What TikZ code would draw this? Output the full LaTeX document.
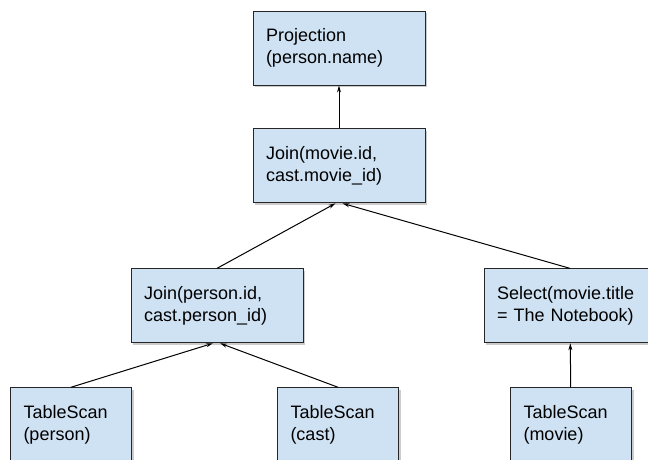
\documentclass[tikz,border=0pt]{standalone}
\usepackage{fontspec}
\setmainfont{Liberation Sans}
\usepackage{xcolor}
\usetikzlibrary{shapes,arrows.meta,positioning,shadows}
\definecolor{opblue}{HTML}{CFE2F3}

\begin{document}
\begin{tikzpicture}[
    opbox/.style={rectangle, draw=black!85, line width=0.9pt, fill=opblue,
        drop shadow={shadow xshift=2pt, shadow yshift=-2pt, fill=black!40},
        minimum width=172pt, minimum height=74pt, text width=146pt,
        inner xsep=13pt, align=left, font=\fontsize{18}{22.5}\selectfont},
    scanbox/.style={opbox, minimum width=121pt, text width=95pt},
    edge/.style={-{Stealth[length=7pt,width=4pt]}, line width=1pt}
]
    \useasboundingbox (0pt,0pt) rectangle (648pt,-459pt);
    \clip (0pt,0pt) rectangle (648pt,-459pt);

    % Nodes
    \node [opbox] (proj) at (339pt,-48pt) {Projection\\(person.name)};
    \node [opbox, below=43pt of proj] (joinm) {Join(movie.id,\\cast.movie\_id)};
    \node [opbox, below=65pt of joinm, xshift=-122pt] (joinp) {Join(person.id,\\cast.person\_id)};
    \node [opbox, below=65pt of joinm, xshift=231pt] (sel) {Select(movie.title\\= The Notebook)};
    \node [scanbox, below=44pt of joinp, xshift=-146pt] (tsp) {TableScan\\(person)};
    \node [scanbox, below=44pt of joinp, xshift=121pt] (tsc) {TableScan\\(cast)};
    \node [scanbox, below=44pt of sel, xshift=1pt] (tsm) {TableScan\\(movie)};

    % Path
    \draw [edge] (joinm) -- (proj);
    \draw [edge] (joinp.north) -- ([xshift=-3.5pt]joinm.south);
    \draw [edge] (sel.north) -- ([xshift=3.5pt]joinm.south);
    \draw [edge] (tsp.north) -- ([xshift=-4pt]joinp.south);
    \draw [edge] (tsc.north) -- ([xshift=3pt]joinp.south);
    \draw [edge] (tsm) -- (sel);
\end{tikzpicture}
\end{document}
